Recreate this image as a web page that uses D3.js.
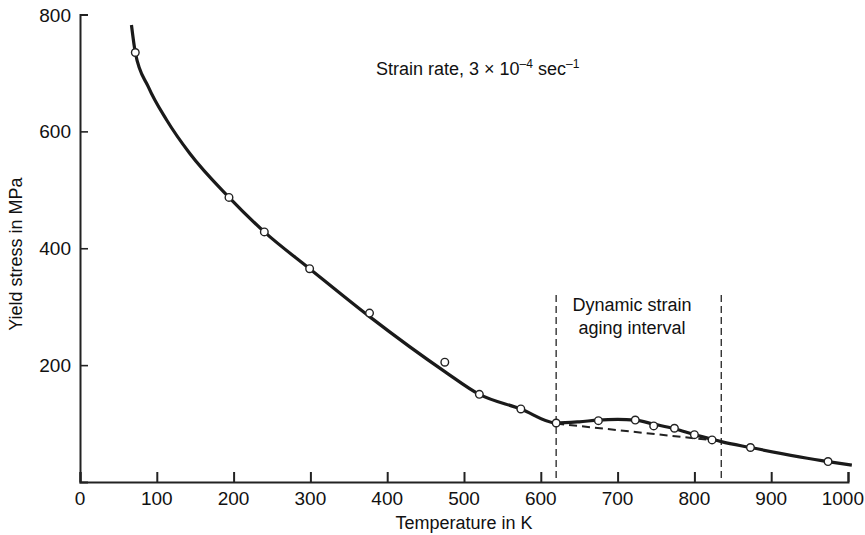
<!DOCTYPE html>
<html>
<head>
<meta charset="utf-8">
<script src="https://cdn.jsdelivr.net/npm/d3@7"></script>
<style>
  body { margin: 0; background: #fff; }
  text { font-family: "Liberation Sans", Arial, sans-serif; fill: #111; }
</style>
</head>
<body>
<div id="wrapper"></div>
<script>
// measured points (open circles)
const pointTemps  = [72, 194, 240, 299, 377, 475, 520, 574, 620, 675, 723, 747, 774, 800, 823, 873, 974];
const pointStress = [735, 487, 428, 365, 289, 205, 150, 125, 101, 105, 106, 96, 92, 81, 72, 59, 35];

// fitted solid curve
const curveTemps  = [67, 72, 89, 113, 143, 194, 240, 299, 377, 475, 520, 574, 620, 650, 675, 700, 723, 747, 774, 800, 823, 835, 873, 974, 1005];
const curveStress = [782, 735, 676, 619, 562, 487, 428, 365, 283, 189, 150, 125, 101, 103, 106, 107, 106, 99, 91, 81, 73, 69, 59, 35, 29];

// dashed extrapolation through the aging interval
const dashTemps  = [620, 835];
const dashStress = [100, 70];

// interval bounds
const intervalTemps = [620, 835];
const intervalTop = 320;

const xTicks = [0, 100, 200, 300, 400, 500, 600, 700, 800, 900, 1000];
const yTicks = [200, 400, 600, 800];

function drawChart() {

	const dimensions = {
		width: 865,
		height: 535,
		left: 80,
		right: 848,
		top: 14.5,
		bottom: 482
	};

	const svg = d3.select("#wrapper")
		.append("svg")
		.attr("width", dimensions.width)
		.attr("height", dimensions.height);

	const xScale = d3.scaleLinear()
		.domain([0, 1000])
		.range([dimensions.left, dimensions.right]);

	const yScale = d3.scaleLinear()
		.domain([0, 800])
		.range([dimensions.bottom, dimensions.top]);

	// axes

	const xAxis = svg.append("g")
		.attr("transform", `translate(0,${yScale(0)})`)
		.call(d3.axisTop(xScale).tickValues(xTicks).tickSize(10).tickFormat(""));
	xAxis.select(".domain").attr("stroke", "#222").attr("stroke-width", 2);
	xAxis.selectAll(".tick line").attr("stroke", "#222").attr("stroke-width", 2);

	// last label is pulled in so it stays inside the page
	svg.append("g").selectAll("text")
		.data(xTicks)
		.join("text")
		.attr("x", (d, i) => i === xTicks.length - 1 ? dimensions.width - 1 : xScale(d))
		.attr("y", 505)
		.attr("text-anchor", (d, i) => i === xTicks.length - 1 ? "end" : "middle")
		.style("font-size", "19px")
		.text(d => d);

	const yAxis = svg.append("g")
		.attr("transform", `translate(${xScale(0)},0)`)
		.call(d3.axisRight(yScale).tickValues(yTicks).tickSize(8).tickFormat(""));
	yAxis.select(".domain").attr("stroke", "#222").attr("stroke-width", 2);
	yAxis.selectAll(".tick line").attr("stroke", "#222").attr("stroke-width", 1.6);

	svg.append("g").selectAll("text")
		.data(yTicks)
		.join("text")
		.attr("x", xScale(0) - 9)
		.attr("y", d => yScale(d) + 7)
		.attr("text-anchor", "end")
		.style("font-size", "19px")
		.text(d => d);

	svg.append("text")
		.attr("x", xScale(500))
		.attr("y", 529)
		.attr("text-anchor", "middle")
		.style("font-size", "18px")
		.text("Temperature in K");

	svg.append("text")
		.attr("transform", `translate(22,${yScale(390)}) rotate(-90)`)
		.attr("text-anchor", "middle")
		.style("font-size", "18px")
		.text("Yield stress in MPa");

	// interval markers

	svg.append("g").selectAll("line")
		.data(intervalTemps)
		.join("line")
		.attr("x1", d => xScale(d))
		.attr("x2", d => xScale(d))
		.attr("y1", yScale(intervalTop))
		.attr("y2", yScale(0))
		.attr("stroke", "#333")
		.attr("stroke-width", 1.4)
		.attr("stroke-dasharray", "7,4");

	const dashLine = d3.line()
		.x(d => xScale(d[0]))
		.y(d => yScale(d[1]));

	svg.append("path")
		.datum(d3.zip(dashTemps, dashStress))
		.attr("d", dashLine)
		.attr("fill", "none")
		.attr("stroke", "#222")
		.attr("stroke-width", 2)
		.attr("stroke-dasharray", "8,5");

	// fitted curve

	const lineGenerator = d3.line()
		.x(d => xScale(d[0]))
		.y(d => yScale(d[1]))
		.curve(d3.curveMonotoneX);

	svg.append("path")
		.datum(d3.zip(curveTemps, curveStress))
		.attr("d", lineGenerator)
		.attr("fill", "none")
		.attr("stroke", "#1a1a1a")
		.attr("stroke-width", 3.2);

	// data points

	svg.append("g").selectAll("circle")
		.data(d3.zip(pointTemps, pointStress))
		.join("circle")
		.attr("cx", d => xScale(d[0]))
		.attr("cy", d => yScale(d[1]))
		.attr("r", 3.8)
		.attr("fill", "#fff")
		.attr("stroke", "#222")
		.attr("stroke-width", 1.4);

	// annotations

	const rate = svg.append("text")
		.attr("x", 376)
		.attr("y", 75)
		.style("font-size", "18px");
	rate.append("tspan").text("Strain rate, 3 \u00d7 10");
	rate.append("tspan").attr("dy", -7).style("font-size", "12px").text("\u20134");
	rate.append("tspan").attr("dy", 7).text(" sec");
	rate.append("tspan").attr("dy", -7).style("font-size", "12px").text("\u20131");

	const dsa = svg.append("text")
		.attr("text-anchor", "middle")
		.style("font-size", "18px");
	dsa.append("tspan").attr("x", 632).attr("y", 311).text("Dynamic strain");
	dsa.append("tspan").attr("x", 632).attr("y", 334).text("aging interval");
}

drawChart();
</script>
</body>
</html>
